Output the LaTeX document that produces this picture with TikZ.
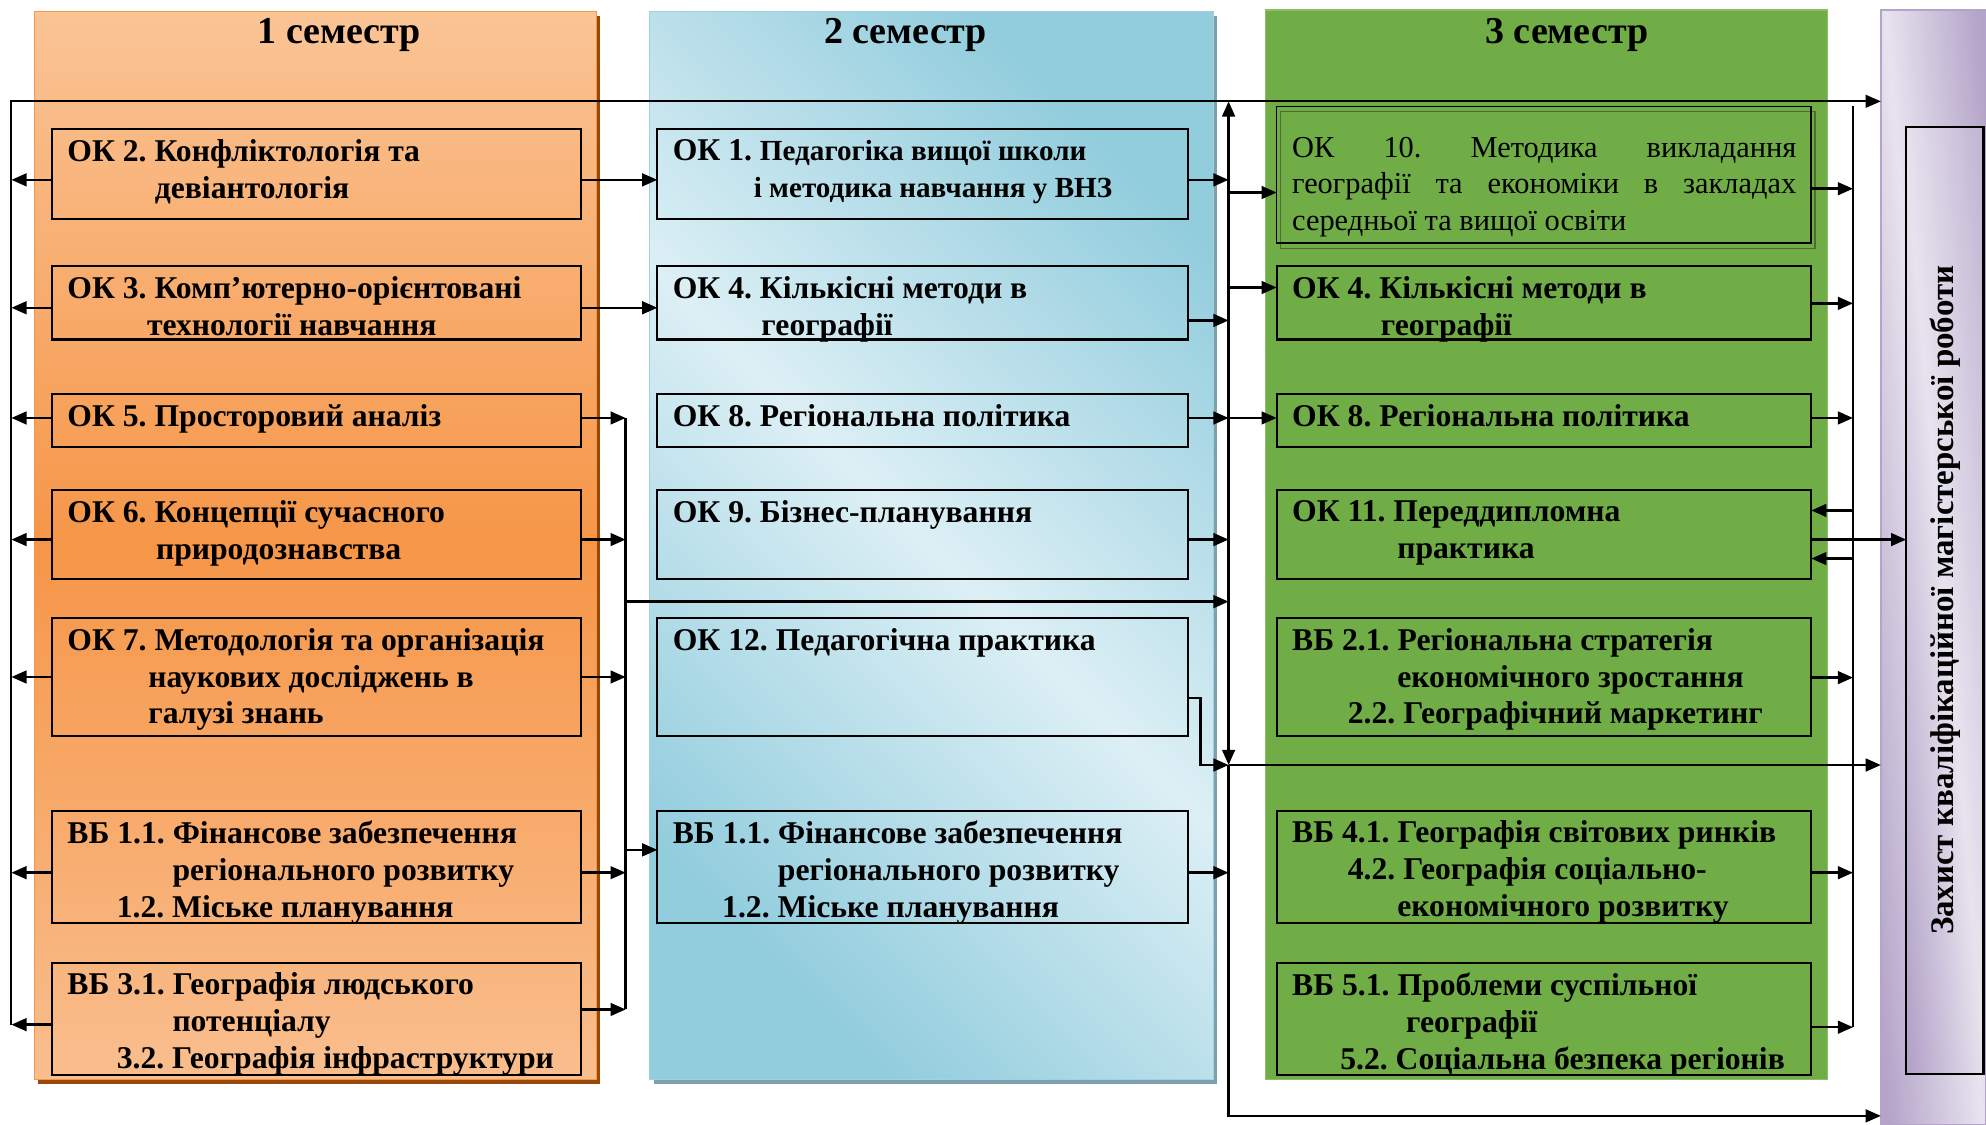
\documentclass[tikz,border=0pt]{standalone}
\usepackage{fontspec}
\setmainfont{Liberation Serif}
\usepackage{xcolor}
\usetikzlibrary{arrows.meta,positioning,shadows}
\frenchspacing

\definecolor{orlight}{RGB}{250,196,150}
\definecolor{ordark}{RGB}{246,150,72}
\definecolor{orbottom}{RGB}{249,190,142}
\definecolor{orline}{RGB}{247,150,70}
\definecolor{orshadow}{RGB}{152,72,7}
\definecolor{bllight}{RGB}{220,239,245}
\definecolor{bldark}{RGB}{146,205,221}
\definecolor{blline}{RGB}{160,210,225}
\definecolor{blshadow}{RGB}{125,160,175}
\definecolor{grfill}{RGB}{112,173,71}
\definecolor{grline}{RGB}{140,190,105}
\definecolor{vilight}{RGB}{231,227,238}
\definecolor{vidark}{RGB}{180,164,201}

\tikzset{
  panel/.style={anchor=north west, inner sep=0pt, outer sep=0pt, line width=1pt},
  course/.style={draw, line width=1.7pt, anchor=north west, inner sep=0pt, outer sep=0pt},
  coursetext/.style={anchor=north west, inner sep=0pt, align=left, font=\bfseries\fontsize{25}{29}\selectfont},
  semtitle/.style={anchor=base, font=\bfseries\fontsize{30}{36}\selectfont},
  link/.style={->, line width=2pt},
  bus/.style={line width=2pt}
}

\begin{document}
\begin{tikzpicture}[x=1pt, y=-1pt, >={Triangle[length=12pt, width=10pt]}]
    \useasboundingbox (0,0) rectangle (1568,888);

    % semester panels
    \node[panel, minimum width=444pt, minimum height=843pt, draw=orline,
          drop shadow={shadow xshift=3pt, shadow yshift=-4pt, fill=orshadow, opacity=1},
          top color=orlight, bottom color=orbottom, middle color=ordark] (sem1) at (27,9) {};
    \node[panel, minimum width=445pt, minimum height=843pt, draw=blline,
          drop shadow={shadow xshift=3pt, shadow yshift=-4pt, fill=blshadow, opacity=1},
          top color=bldark, bottom color=bldark, middle color=bllight, shading angle=-45] (sem2) at (513,9) {};
    \node[panel, minimum width=444pt, minimum height=844pt, draw=grline, fill=grfill] (sem3) at (999,8) {};
    \node[panel, minimum width=83pt, minimum height=880pt, draw=vidark,
          top color=vidark, bottom color=vidark, middle color=vilight, shading angle=-85] (zahyst) at (1485,8) {};
    \node[panel, minimum width=61pt, minimum height=748pt, draw=black, line width=1.7pt,
          top color=vidark!70!vilight, bottom color=vidark, middle color=vilight, shading angle=-85] (zk) at (1505,100) {};
    \node[rotate=90, font=\bfseries\fontsize{26}{30}\selectfont] at (zk.center) {Захист кваліфікаційної магістерської роботи};

    \node[semtitle] (t1) at (268,34) {1 семестр};
    \node[semtitle] (t2) at (715,34) {2 семестр};
    \node[semtitle] (t3) at (1237,34) {3 семестр};

    % 1 семестр
    \node[course, minimum width=418pt, minimum height=71pt] (ok2) at (41,102) {};
    \node[coursetext] at ([shift={(12,8)}]ok2.north west) {ОК 2. Конфліктологія та\\\hspace*{69pt}девіантологія};
    \node[course, minimum width=418pt, minimum height=58pt] (ok3) at (41,210) {};
    \node[coursetext] at ([shift={(12,8)}]ok3.north west) {ОК 3. Комп’ютерно-орієнтовані\\\hspace*{63pt}технології навчання};
    \node[course, minimum width=418pt, minimum height=42pt] (ok5) at (41,311) {};
    \node[coursetext] at ([shift={(12,8)}]ok5.north west) {ОК 5. Просторовий аналіз};
    \node[course, minimum width=418pt, minimum height=70pt] (ok6) at (41,387) {};
    \node[coursetext] at ([shift={(12,8)}]ok6.north west) {ОК 6. Концепції сучасного\\\hspace*{70pt}природознавства};
    \node[course, minimum width=418pt, minimum height=93pt] (ok7) at (41,488) {};
    \node[coursetext] at ([shift={(12,8)}]ok7.north west) {ОК 7. Методологія та організація\\\hspace*{64pt}наукових досліджень в\\\hspace*{64pt}галузі знань};
    \node[course, minimum width=418pt, minimum height=89pt] (vb1a) at (41,640) {};
    \node[coursetext] at ([shift={(12,8)}]vb1a.north west) {ВБ 1.1. Фінансове забезпечення\\\hspace*{83pt}регіонального розвитку\\\hspace*{39pt}1.2. Міське планування};
    \node[course, minimum width=418pt, minimum height=89pt] (vb3) at (41,760) {};
    \node[coursetext] at ([shift={(12,8)}]vb3.north west) {ВБ 3.1. Географія людського\\\hspace*{83pt}потенціалу\\\hspace*{39pt}3.2. Географія інфраструктури};

    % 2 семестр
    \node[course, minimum width=419pt, minimum height=71pt] (ok1) at (519,102) {};
    \node[coursetext] at ([shift={(12,8)}]ok1.north west) {ОК 1. {\fontsize{23}{28}\selectfont Педагогіка вищої школи}\\\hspace*{64pt}{\fontsize{23}{28}\selectfont і методика навчання у ВНЗ}};
    \node[course, minimum width=419pt, minimum height=58pt] (ok4a) at (519,210) {};
    \node[coursetext] at ([shift={(12,8)}]ok4a.north west) {ОК 4. Кількісні методи в\\\hspace*{70pt}географії};
    \node[course, minimum width=419pt, minimum height=42pt] (ok8a) at (519,311) {};
    \node[coursetext] at ([shift={(12,8)}]ok8a.north west) {ОК 8. Регіональна політика};
    \node[course, minimum width=419pt, minimum height=70pt] (ok9) at (519,387) {};
    \node[coursetext] at ([shift={(12,8)}]ok9.north west) {ОК 9. Бізнес-планування};
    \node[course, minimum width=419pt, minimum height=93pt] (ok12) at (519,488) {};
    \node[coursetext] at ([shift={(12,8)}]ok12.north west) {ОК 12. Педагогічна практика};
    \node[course, minimum width=419pt, minimum height=89pt] (vb1b) at (519,640) {};
    \node[coursetext] at ([shift={(12,8)}]vb1b.north west) {ВБ 1.1. Фінансове забезпечення\\\hspace*{83pt}регіонального розвитку\\\hspace*{39pt}1.2. Міське планування};

    % 3 семестр
    \draw[line width=1pt, black!35!grfill] (1011,88) rectangle (1433,196);
    \node[course, line width=1.2pt, minimum width=422pt, minimum height=108pt] (ok10) at (1008,84) {};
    \node[coursetext, font=\fontsize{24}{29}\selectfont] at ([shift={(12,24)}]ok10.north west)
        {\makebox[398pt][s]{ОК 10. Методика викладання}\\\makebox[398pt][s]{географії та економіки в закладах}\\середньої та вищої освіти};
    \node[course, minimum width=422pt, minimum height=58pt] (ok4b) at (1008,210) {};
    \node[coursetext] at ([shift={(12,8)}]ok4b.north west) {ОК 4. Кількісні методи в\\\hspace*{70pt}географії};
    \node[course, minimum width=422pt, minimum height=42pt] (ok8b) at (1008,311) {};
    \node[coursetext] at ([shift={(12,8)}]ok8b.north west) {ОК 8. Регіональна політика};
    \node[course, minimum width=422pt, minimum height=70pt] (ok11) at (1008,387) {};
    \node[coursetext] at ([shift={(12,8)}]ok11.north west) {ОК 11. Переддипломна\\\hspace*{83pt}практика};
    \node[course, minimum width=422pt, minimum height=93pt] (vb2) at (1008,488) {};
    \node[coursetext] at ([shift={(12,8)}]vb2.north west) {ВБ 2.1. Регіональна стратегія\\\hspace*{83pt}економічного зростання\\\hspace*{44pt}2.2. Географічний маркетинг};
    \node[course, minimum width=422pt, minimum height=89pt] (vb4) at (1008,640) {};
    \node[coursetext] at ([shift={(12,8)}]vb4.north west) {ВБ 4.1. Географія світових ринків\\\hspace*{44pt}4.2. Географія соціально-\\\hspace*{83pt}економічного розвитку};
    \node[course, minimum width=422pt, minimum height=89pt] (vb5) at (1008,760) {};
    \node[coursetext] at ([shift={(12,8)}]vb5.north west) {ВБ 5.1. Проблеми суспільної\\\hspace*{90pt}географії\\\hspace*{38pt}5.2. Соціальна безпека регіонів};

    % buses
    \coordinate (lbus) at (9,80);
    \coordinate (lbusend) at (9,809);
    \coordinate (rbusA) at (494,330);
    \coordinate (rbusAend) at (494,797);
    \coordinate (split) at (494,475);
    \coordinate (mbus) at (970,80);
    \coordinate (mmid) at (970,604);
    \coordinate (mbusend) at (970,881);
    \coordinate (rbusC) at (1463,84);
    \coordinate (rbusCend) at (1463,811);

    % left bus and top line
    \draw[link, line width=1.6pt] (lbusend) -- (lbus) -- (lbus -| zahyst.west);
    \foreach \b/\dy in {ok2/-4.5, ok3/-4, ok5/2, ok6/-4, ok7/0, vb1a/-4.5, vb3/-4.5}
        \draw[link] ([yshift=\dy pt]\b.west) coordinate (t) -- (t -| lbus);

    % 1 -> 2
    \draw[link] ([yshift=-4.5pt]ok2.east) -- ([yshift=-4.5pt]ok1.west);
    \draw[link] ([yshift=-4pt]ok3.east) -- ([yshift=-4pt]ok4a.west);
    \draw[bus] (rbusA) -- (rbusAend);
    \foreach \b/\dy in {ok5/2, ok6/-4, ok7/0, vb1a/-4.5, vb3/7.5}
        \draw[link] ([yshift=\dy pt]\b.east) coordinate (t) -- (t -| rbusA);
    \path ([yshift=13.5pt]vb1b.west) coordinate (t);
    \draw[link] (t -| rbusA) -- (t);
    \draw[link] (split) -- (split -| mbus);

    % 2 -> 3
    \draw[bus, <->] (mbus) -- (mmid);
    \draw[link] (mmid) -- (mbusend) -- (mbusend -| zahyst.west);
    \draw[link] (mmid) -- (mmid -| zahyst.west);
    \foreach \b/\dy in {ok1/-4.5, ok4a/-14, ok8a/2, ok9/-4, vb1b/-4.5}
        \draw[link] ([yshift=\dy pt]\b.east) coordinate (t) -- (t -| mbus);
    \draw[link] ([yshift=-16.5pt]ok12.east) -- ++(10,0) |- (mmid);
    \foreach \b/\dy in {ok10/-14, ok4b/12, ok8b/2}
        {\path ([yshift=\dy pt]\b.west) coordinate (t);
         \draw[link] (t -| mbus) -- (t);}

    % 3 -> захист
    \draw[bus] (rbusC) -- (rbusCend);
    \foreach \b/\dy in {ok10/-11, ok4b/-0.5, ok8b/2, vb2/-0.5, vb4/-4.5, vb5/-6.5}
        \draw[link] ([yshift=\dy pt]\b.east) coordinate (t) -- (t -| rbusC);
    \foreach \dy in {19,-19}
        {\path ([yshift=\dy pt]ok11.east) coordinate (t);
         \draw[link] (t -| rbusC) -- (t);}
    \draw[link] ([yshift=-4pt]ok11.east) coordinate (t) -- (t -| zk.west);
\end{tikzpicture}
\end{document}
